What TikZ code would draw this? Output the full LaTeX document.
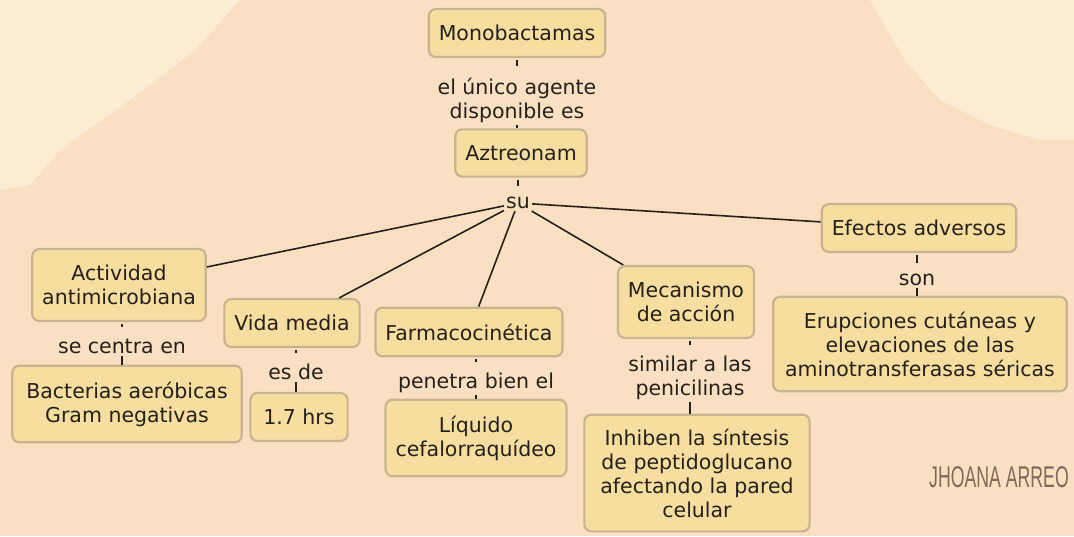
\documentclass[tikz,border=0pt]{standalone}
\usepackage{fontspec}
\usepackage{tikz}
\newfontfamily\dejavu{DejaVu Sans}
\newfontfamily\signfont{Liberation Sans}
\newcommand{\mapfont}{\dejavu\fontsize{20.5}{24}\selectfont}
\definecolor{bgpeach}{RGB}{249,224,194}
\definecolor{bglight}{RGB}{252,236,212}
\definecolor{boxfill}{RGB}{246,221,160}
\definecolor{boxline}{RGB}{200,181,143}
\definecolor{inkdark}{RGB}{38,32,26}
\definecolor{signink}{RGB}{125,108,92}

\begin{document}
\begin{tikzpicture}[x=1pt,y=-1pt,
    concept/.style={draw=boxline, line width=2.2pt, fill=boxfill, rounded corners=7pt,
                    align=center, inner xsep=10pt, inner ysep=16pt, text=inkdark, font=\mapfont},
    linkword/.style={align=center, inner sep=2pt, text=inkdark, font=\mapfont},
    link/.style={draw=inkdark, line width=1.6pt},
    tick/.style={link, shorten <=2pt, shorten >=9pt}]
                  \fill[bgpeach] (0,0) rectangle (1074,536);
                  \fill[bglight] (0,0) -- (240,0) -- (195,50) -- (130,100) -- (60,150) -- (30,185) -- (0,190) -- cycle;
                  \fill[bglight] (870,0) -- (1074,0) -- (1074,140) -- (1040,140) -- (990,125) -- (940,100) -- (905,60) -- cycle;
                  \useasboundingbox (0,0) rectangle (1074,536);

                  \node[concept] (mono) at (517,33) {Monobactamas};
                  \node[linkword] (w-unico) at (517,100) {el único agente\\disponible es};
                  \node[concept] (aztr) at (521,153) {Aztreonam};
                  \node[linkword] (w-su) at (518,203) {su};

                  \node[concept] (activ) at (119,285) {Actividad\\antimicrobiana};
                  \node[concept] (vida) at (292,323) {Vida media};
                  \node[concept] (farma) at (469,332) {Farmacocinética};
                  \node[concept] (meca) at (686,302) {Mecanismo\\de acción};
                  \node[concept] (efec) at (919,228) {Efectos adversos};

                  \node[linkword] (w-centra) at (122,346) {se centra en};
                  \node[concept, inner xsep=14pt] (bact) at (127,404) {Bacterias aeróbicas\\Gram negativas};
                  \node[linkword] (w-esde) at (296,372) {es de};
                  \node[concept, inner xsep=13pt] (horas) at (299,417) {1.7 hrs};
                  \node[linkword] (w-penetra) at (476,383) {penetra bien el};
                  \node[concept] (liquido) at (476,438) {Líquido\\cefalorraquídeo};
                  \node[linkword] (w-similar) at (690,378) {similar a las\\penicilinas};
                  \node[concept, inner xsep=16pt, inner ysep=14pt] (inhib) at (697,473) {Inhiben la síntesis\\de peptidoglucano\\afectando la pared\\celular};
                  \node[linkword] (w-son) at (917,280) {son};
                  \node[concept, inner xsep=12pt, inner ysep=15pt] (erup) at (920,344) {Erupciones cutáneas y\\elevaciones de las\\aminotransferasas séricas};

                  \draw[tick] (w-unico |- mono.south) -- (w-unico);
                  \draw[link] (w-unico) -- (w-unico |- aztr.north);
                  \draw[tick] (w-su |- aztr.south) -- (w-su);
                  \draw[link] (w-su) -- (activ);
                  \draw[link] (w-su) -- (vida);
                  \draw[link] (w-su) -- (farma);
                  \draw[link] (w-su) -- (meca);
                  \draw[link] (w-su) -- (efec);
                  \draw[tick] (w-centra |- activ.south) -- (w-centra);
                  \draw[link] (w-centra) -- (w-centra |- bact.north);
                  \draw[tick] (w-esde |- vida.south) -- (w-esde);
                  \draw[link] (w-esde) -- (w-esde |- horas.north);
                  \draw[tick] (w-penetra |- farma.south) -- (w-penetra);
                  \draw[link] (w-penetra) -- (w-penetra |- liquido.north);
                  \draw[tick] (w-similar |- meca.south) -- (w-similar);
                  \draw[link] (w-similar) -- (w-similar |- inhib.north);
                  \draw[tick] (w-son |- efec.south) -- (w-son);
                  \draw[link] (w-son) -- (w-son |- erup.north);

                  \node[text=signink, xscale=0.59, font=\signfont\fontsize{30}{30}\selectfont] (firma) at (999,477) {JHOANA ARREO};
              \end{tikzpicture}
\end{document}
